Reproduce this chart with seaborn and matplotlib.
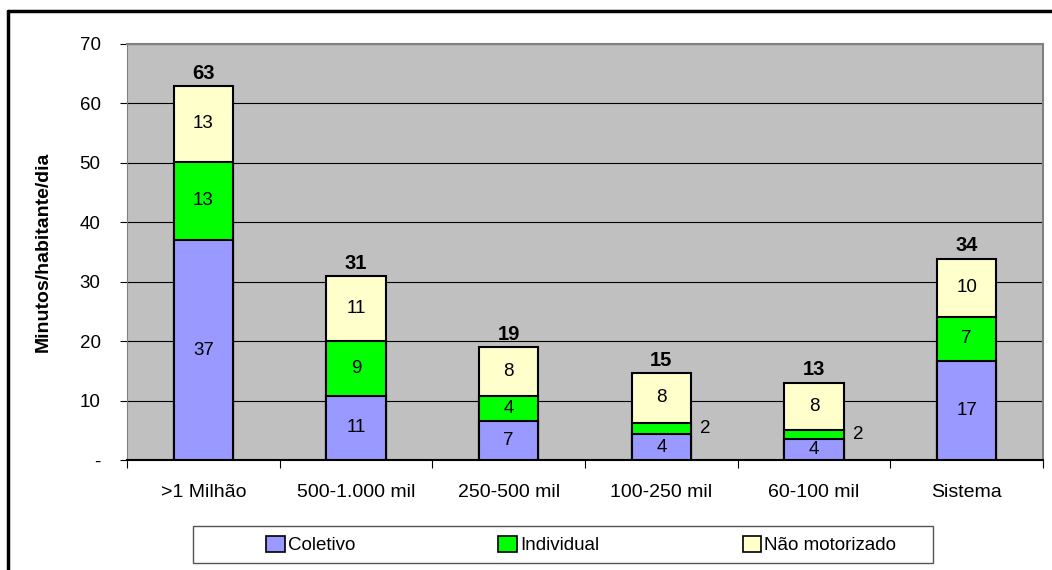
import pandas as pd
import seaborn as sns
import matplotlib.pyplot as plt
from matplotlib.lines import Line2D
from matplotlib.patches import Patch, Rectangle

# values (minutes per inhabitant per day)
categorias = ['>1 Milhão', '500-1.000 mil', '250-500 mil', '100-250 mil', '60-100 mil', 'Sistema']
coletivo = [37.0, 10.8, 6.6, 4.3, 3.6, 16.7]
individual = [13.2, 9.3, 4.2, 2.0, 1.5, 7.4]
nao_motorizado = [12.7, 10.8, 8.2, 8.3, 7.9, 9.8]

cores = {'Coletivo': '#9999ff', 'Individual': '#00ff00', 'Não motorizado': '#ffffcc'}

df = pd.DataFrame({'cat': categorias, 'Coletivo': coletivo,
                   'Individual': individual, 'Não motorizado': nao_motorizado})
df['ate_ind'] = df['Coletivo'] + df['Individual']
df['total'] = df['ate_ind'] + df['Não motorizado']

sns.set_style('white')
plt.rcParams['font.family'] = ['Liberation Sans', 'DejaVu Sans']
plt.rcParams['text.color'] = 'black'
plt.rcParams['axes.labelcolor'] = 'black'
plt.rcParams['xtick.color'] = 'black'
plt.rcParams['ytick.color'] = 'black'

W, H = 1052, 570
fig = plt.figure(figsize=(W / 100, H / 100), dpi=100)
ax = fig.add_axes([127 / W, 1 - 460 / H, (1043 - 127) / W, (460 - 44) / H])
ax.set_facecolor('#c0c0c0')

w = 0.39
# stacked bars drawn tallest first
sns.barplot(data=df, x='cat', y='total', color=cores['Não motorizado'], width=w,
            edgecolor='black', linewidth=1.5, saturation=1, ax=ax, zorder=3)
sns.barplot(data=df, x='cat', y='ate_ind', color=cores['Individual'], width=w,
            edgecolor='black', linewidth=1.5, saturation=1, ax=ax, zorder=3)
sns.barplot(data=df, x='cat', y='Coletivo', color=cores['Coletivo'], width=w,
            edgecolor='black', linewidth=1.5, saturation=1, ax=ax, zorder=3)

fs = 13.5
for i, row in df.iterrows():
    ax.text(i, row['Coletivo'] / 2, f"{row['Coletivo']:.0f}", ha='center', va='center', fontsize=fs, zorder=5)
    if row['Individual'] >= 3:
        ax.text(i, row['Coletivo'] + row['Individual'] / 2, f"{row['Individual']:.0f}",
                ha='center', va='center', fontsize=fs, zorder=5)
    else:
        ax.text(i + w / 2 + 0.06, row['Coletivo'] + row['Individual'] / 2, f"{row['Individual']:.0f}",
                ha='left', va='center', fontsize=fs, zorder=5)
    ax.text(i, row['ate_ind'] + row['Não motorizado'] / 2, f"{row['Não motorizado']:.0f}",
            ha='center', va='center', fontsize=fs, zorder=5)
    ax.text(i, row['total'] + 0.6, f"{row['total']:.0f}", ha='center', va='bottom',
            fontsize=14.5, fontweight='bold', zorder=5)

ax.set_ylim(0, 70)
ax.set_xlim(-0.5, 5.5)
ax.set_yticks(range(0, 71, 10))
ax.set_yticklabels(['-'] + [str(v) for v in range(10, 71, 10)], fontsize=fs)
ax.yaxis.grid(True, color='black', linewidth=0.8)
ax.set_axisbelow(True)
ax.set_xticks([x + 0.5 for x in range(-1, 6)], minor=False)
ax.set_xticklabels([])
ax.set_xticks(range(6), minor=True)
ax.set_xticklabels(categorias, minor=True, fontsize=14)
ax.tick_params(axis='x', which='major', length=6, direction='out', bottom=True, color='black')
ax.tick_params(axis='x', which='minor', length=0, pad=17)
ax.tick_params(axis='y', length=5, direction='out', left=True, color='black', pad=14)
ax.set_xlabel('')
ax.set_ylabel('Minutos/habitante/dia', fontsize=14, fontweight='bold', labelpad=20)

for s in ['top', 'right']:
    ax.spines[s].set_color('#808080')
    ax.spines[s].set_linewidth(1.5)
ax.spines['left'].set_color('#808080')
ax.spines['bottom'].set_color('black')
ax.spines['bottom'].set_linewidth(1.5)

# legend box drawn separately, entries placed inside it
fig.add_artist(Rectangle((193 / W, 1 - 563 / H), 740 / W, 37 / H, transform=fig.transFigure,
                         facecolor='white', edgecolor='#555555', linewidth=1))
handles = [Patch(facecolor=cores[k], edgecolor='black', linewidth=1.2, label=k) for k in cores]
leg = fig.legend(handles=handles, ncol=3, loc='center left',
                 bbox_to_anchor=(266 / W, 1 - 545 / H), frameon=False, fontsize=fs,
                 handlelength=1.0, handleheight=1.0, handletextpad=0.15, columnspacing=7.65,
                 borderpad=0, borderaxespad=0)

# outer chart frame
fig.add_artist(Line2D([8 / W, 1], [1 - 11 / H] * 2, color='black', linewidth=2.5,
                      transform=fig.transFigure))
fig.add_artist(Line2D([8 / W] * 2, [0, 1 - 11 / H], color='black', linewidth=2.5,
                      transform=fig.transFigure))

plt.savefig('out.png', dpi=100)
